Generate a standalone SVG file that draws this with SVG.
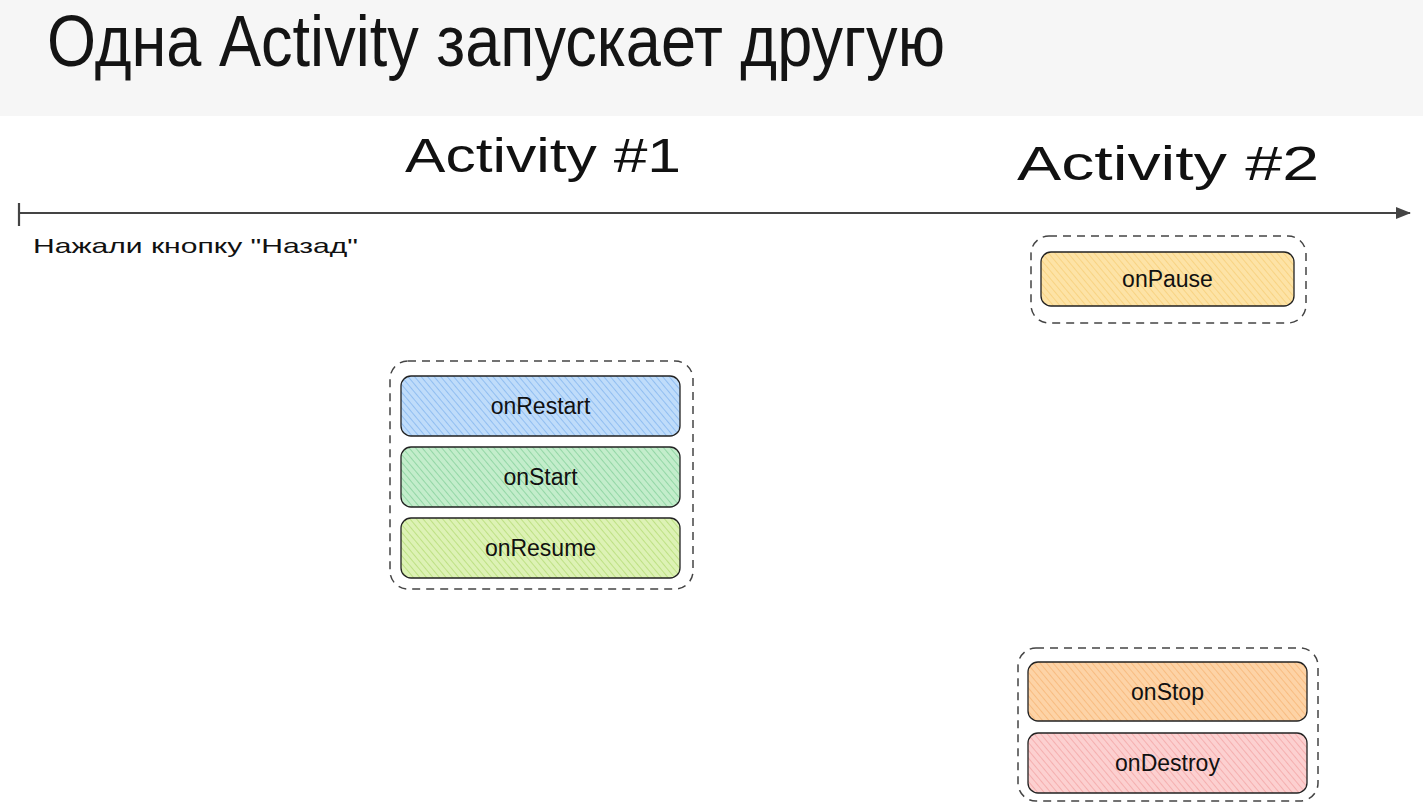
<svg xmlns="http://www.w3.org/2000/svg" width="1423" height="811" viewBox="0 0 1423 811">
<defs>
<style>
.title{font-family:"Liberation Sans Narrow","Liberation Sans","DejaVu Sans Condensed",sans-serif;font-size:72px;fill:#141414}
.hand{font-family:"Liberation Sans","DejaVu Sans",sans-serif;fill:#111}
.lbl{font-family:"Liberation Sans","DejaVu Sans",sans-serif;font-size:23px;fill:#111;text-anchor:middle}
.grp{fill:none;stroke:#444;stroke-width:1.5;stroke-dasharray:8 6}
.box{stroke:#222;stroke-width:1.3}
</style>
<pattern id="hBlue" width="5" height="5" patternUnits="userSpaceOnUse" patternTransform="rotate(-40)"><rect width="5" height="5" fill="#bfdcfa"/><line x1="0" y1="0" x2="0" y2="5" stroke="#6aa6ea" stroke-width="1.1"/></pattern>
<pattern id="hGreen" width="5" height="5" patternUnits="userSpaceOnUse" patternTransform="rotate(-40)"><rect width="5" height="5" fill="#c3edcb"/><line x1="0" y1="0" x2="0" y2="5" stroke="#6cc688" stroke-width="1.1"/></pattern>
<pattern id="hLime" width="5" height="5" patternUnits="userSpaceOnUse" patternTransform="rotate(-40)"><rect width="5" height="5" fill="#ddf2b5"/><line x1="0" y1="0" x2="0" y2="5" stroke="#a4d35c" stroke-width="1.1"/></pattern>
<pattern id="hYellow" width="5" height="5" patternUnits="userSpaceOnUse" patternTransform="rotate(-40)"><rect width="5" height="5" fill="#fde3a6"/><line x1="0" y1="0" x2="0" y2="5" stroke="#f4c766" stroke-width="1.1"/></pattern>
<pattern id="hOrange" width="5" height="5" patternUnits="userSpaceOnUse" patternTransform="rotate(-40)"><rect width="5" height="5" fill="#fdd3a6"/><line x1="0" y1="0" x2="0" y2="5" stroke="#f5aa62" stroke-width="1.1"/></pattern>
<pattern id="hRed" width="5" height="5" patternUnits="userSpaceOnUse" patternTransform="rotate(-40)"><rect width="5" height="5" fill="#fcd0d0"/><line x1="0" y1="0" x2="0" y2="5" stroke="#f09494" stroke-width="1.1"/></pattern>
<marker id="arr" markerWidth="16" markerHeight="12" refX="14" refY="6" orient="auto" markerUnits="userSpaceOnUse"><path d="M0,0 L15,6 L0,12 Z" fill="#444"/></marker>
</defs>
<rect x="0" y="0" width="1423" height="811" fill="#ffffff"/>
<rect x="0" y="0" width="1423" height="116" fill="#f6f6f6"/>
<text class="title" x="47" y="66" textLength="898" lengthAdjust="spacingAndGlyphs">Одна Activity запускает другую</text>

<g id="connectors">
<line x1="19" y1="213" x2="1410" y2="213" stroke="#444" stroke-width="2.2" marker-end="url(#arr)"/>
<line x1="19" y1="203" x2="19" y2="226" stroke="#444" stroke-width="2.2"/>
</g>

<text class="hand" x="33" y="253" font-size="21" textLength="325" lengthAdjust="spacingAndGlyphs">Нажали кнопку "Назад"</text>
<text class="hand" x="405" y="172" font-size="48" textLength="276" lengthAdjust="spacingAndGlyphs">Activity #1</text>
<text class="hand" x="1017" y="180" font-size="48" textLength="302" lengthAdjust="spacingAndGlyphs">Activity #2</text>

<g id="group1">
<rect class="grp" x="390" y="361" width="303" height="228" rx="18"/>
</g>
<g id="onRestart">
<rect class="box" x="401" y="376" width="279" height="60" rx="10" fill="url(#hBlue)"/>
<text class="lbl" x="540.5" y="414">onRestart</text>
</g>
<g id="onStart">
<rect class="box" x="401" y="447" width="279" height="60" rx="10" fill="url(#hGreen)"/>
<text class="lbl" x="540.5" y="485">onStart</text>
</g>
<g id="onResume">
<rect class="box" x="401" y="518" width="279" height="60" rx="10" fill="url(#hLime)"/>
<text class="lbl" x="540.5" y="556">onResume</text>
</g>

<g id="group2">
<rect class="grp" x="1031" y="236" width="275" height="87" rx="18"/>
</g>
<g id="onPause">
<rect class="box" x="1041" y="252" width="253" height="54" rx="10" fill="url(#hYellow)"/>
<text class="lbl" x="1167.5" y="287">onPause</text>
</g>

<g id="group3">
<rect class="grp" x="1018" y="648" width="300" height="153" rx="18"/>
</g>
<g id="onStop">
<rect class="box" x="1028" y="662" width="279" height="59" rx="10" fill="url(#hOrange)"/>
<text class="lbl" x="1167.5" y="700">onStop</text>
</g>
<g id="onDestroy">
<rect class="box" x="1028" y="733" width="279" height="60" rx="10" fill="url(#hRed)"/>
<text class="lbl" x="1167.5" y="771">onDestroy</text>
</g>
</svg>
